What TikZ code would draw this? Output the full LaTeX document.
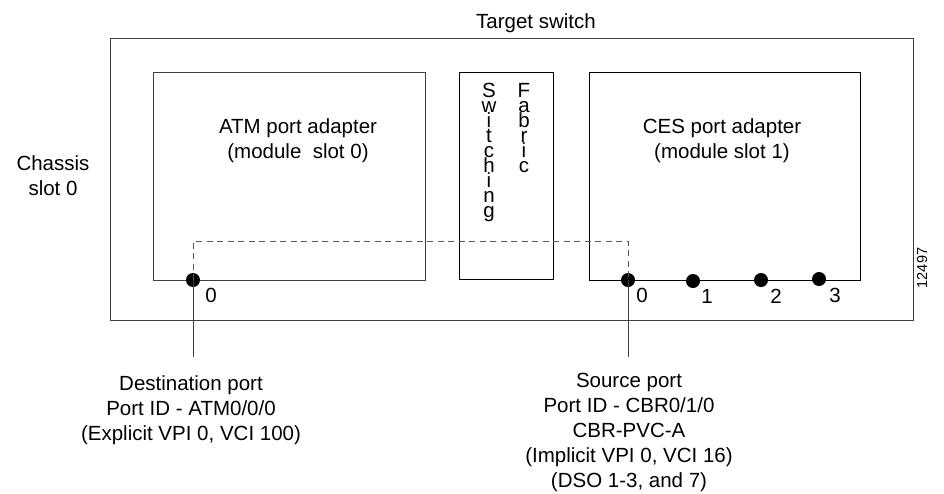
\documentclass[tikz,border=0pt]{standalone}
\usepackage{fontspec}
\setmainfont{Liberation Sans}
\newcommand\mytightlines{\lineskiplimit=-30pt\relax\lineskip=0pt\relax}
\begin{document}
\begin{tikzpicture}[x=1pt,y=-1pt,
  box/.style={draw=black!75, line width=1pt},
  lbl/.style={font=\fontsize{20.5}{25}\selectfont, align=center, inner sep=0pt},
  vertlbl/.style={font=\fontsize{20.5}{15}\selectfont\mytightlines, align=center, inner sep=0pt, anchor=north},
  portdot/.style={circle, fill=black, minimum size=14pt, inner sep=0pt},
  link/.style={draw=black!75, line width=1pt},
  dashpath/.style={draw=black!65, line width=1pt, dash pattern=on 6pt off 4.5pt}]
\useasboundingbox (0,0) rectangle (944,493);
% boxes
\draw[box] (110,38) rectangle (913,320);
\draw[box] (153,72) rectangle (425,280);
\draw[box, draw=black] (459,72) rectangle (553,279);
\draw[box, draw=black] (589,72) rectangle (860,280);
% texts
\node[lbl, anchor=base] (title) at (536,28) {Target switch};
\node[lbl, anchor=north] (chassis) at (53,155) {Chassis\\slot 0};
\node[lbl, anchor=north] (atm) at (298,118) {ATM port adapter\\(module\ \ slot 0)};
\node[lbl, anchor=north] (ces) at (722,118) {CES port adapter\\(module slot 1)};
\node[vertlbl] (sw) at (489,83) {S\\w\\i\\t\\c\\h\\i\\n\\g};
\node[vertlbl] (fab) at (524,83) {F\\a\\b\\r\\i\\c};
% ports
\node[portdot] (a0) at (193,280) {};
\node[portdot] (c0) at (628,280) {};
\node[portdot] (c1) at (693,281) {};
\node[portdot] (c2) at (761,280) {};
\node[portdot] (c3) at (819,279) {};
\node[lbl] (la0) at (211,295) {0};
\node[lbl] (lc0) at (642,295) {0};
\node[lbl] (lc1) at (707,296) {1};
\node[lbl] (lc2) at (776,296) {2};
\node[lbl] (lc3) at (835,295) {3};
% dashed connection
\draw[dashpath] (a0.center) -- (193,241) -- (628,241) -- (c0.center);
% leader lines
\coordinate (ea) at (193,357);
\coordinate (ec) at (628,357);
\draw[link] (a0.center) -- (ea);
\draw[link] (c0.center) -- (ec);
\node[lbl, anchor=north] (dest) at (191,375) {Destination port\\Port ID - ATM0/0/0\\(Explicit VPI 0, VCI 100)};
\node[lbl, anchor=north] (src) at (629,373) {Source port\\Port ID - CBR0/1/0\\CBR-PVC-A\\(Implicit VPI 0, VCI 16)\\(DSO 1-3, and 7)};
\node[font=\fontsize{14.5}{16}\selectfont, inner sep=0pt, rotate=90] (num) at (922,268) {12497};
\end{tikzpicture}
\end{document}
